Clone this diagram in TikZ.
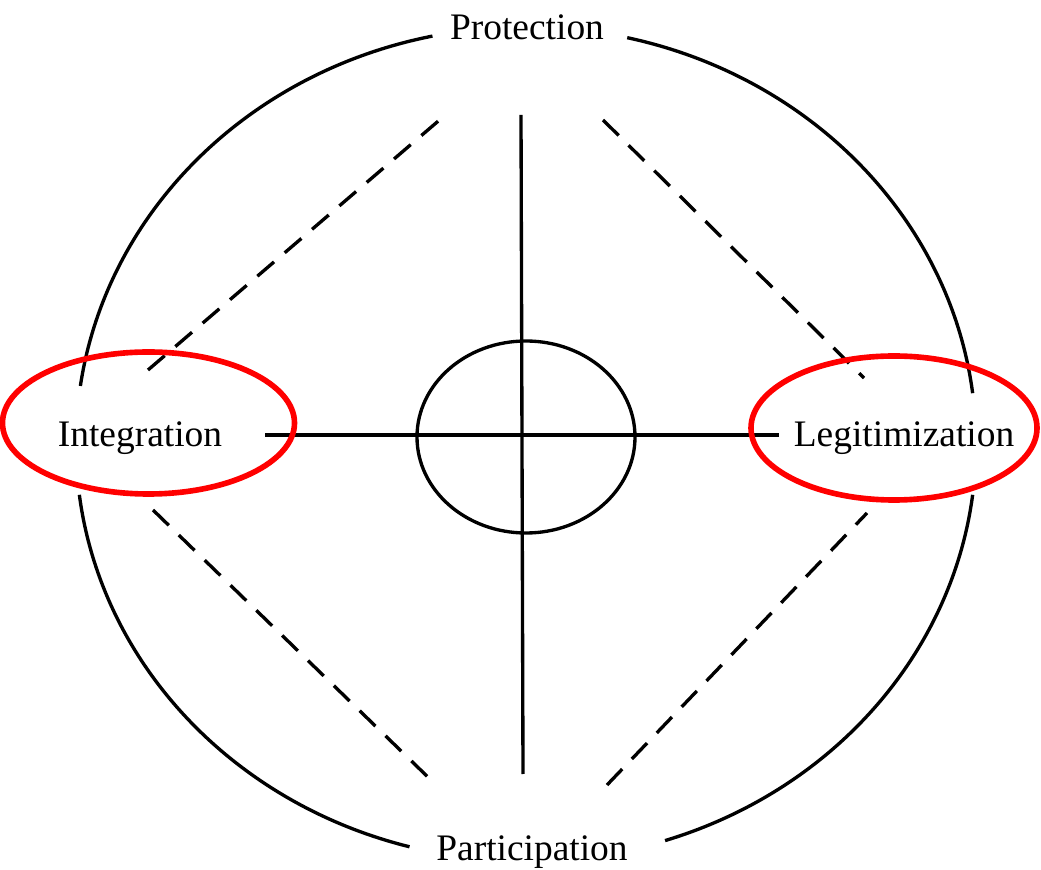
\documentclass[tikz,border=0pt]{standalone}
\usepackage{fontspec}
\setmainfont{Liberation Serif}
\usetikzlibrary{positioning}

\begin{document}
\begin{tikzpicture}[
      x=0.02cm, y=0.02cm,
      font=\fontsize{21.3pt}{24pt}\selectfont,
      rim/.style={line width=1.9pt},
      axis/.style={line width=1.9pt},
      link/.style={line width=1.9pt, dash pattern=on 12.5pt off 8pt},
      mark red/.style={draw=red, line width=3.2pt},
      label/.style={anchor=base, inner sep=0pt}
    ]
    \useasboundingbox (0,0) rectangle (1041,869);
    \coordinate (centre) at (526,425);
    \coordinate (core) at (526,432);

    % outer circle, broken at the four labels
    \draw[rim] (centre) ++(7:450 and 417) arc[start angle=7, end angle=77, x radius=450, y radius=417];
    \draw[rim] (centre) ++(102:450 and 417) arc[start angle=102, end angle=172, x radius=450, y radius=417];
    \draw[rim] (centre) ++(187:450 and 417) arc[start angle=187, end angle=255, x radius=450, y radius=417];
    \draw[rim] (centre) ++(288:450 and 417) arc[start angle=288, end angle=353, x radius=450, y radius=417];

    \node[label] (protection) at (527,829) {Protection};
    \node[label] (participation) at (532,9) {Participation};
    \node[label] (integration) at (140,422) {Integration};
    \node[label] (legitimization) at (904,422) {Legitimization};

    % axes and inner circle
    \coordinate (top) at (521,754);
    \coordinate (bottom) at (523,95);
    \coordinate (left) at (265,434);
    \coordinate (right) at (779,434);
    \draw[axis] (top) -- (bottom);
    \draw[axis] (left) -- (right);
    \draw[axis] (core) ellipse[x radius=109, y radius=96];

    % dashed diagonals
    \coordinate (tl a) at (148,499);
    \coordinate (tl b) at (443,752);
    \coordinate (tr a) at (603,749);
    \coordinate (tr b) at (864,491);
    \coordinate (bl a) at (153,359);
    \coordinate (bl b) at (433,87);
    \coordinate (br a) at (607,84);
    \coordinate (br b) at (867,356);
    \draw[link] (tl a) -- (tl b);
    \draw[link] (tr a) -- (tr b);
    \draw[link] (bl a) -- (bl b);
    \draw[link] (br a) -- (br b);

    % highlights
    \draw[mark red] (148.5,446) ellipse[x radius=146, y radius=71];
    \draw[mark red] (894,441) ellipse[x radius=143, y radius=72];
  \end{tikzpicture}
\end{document}
